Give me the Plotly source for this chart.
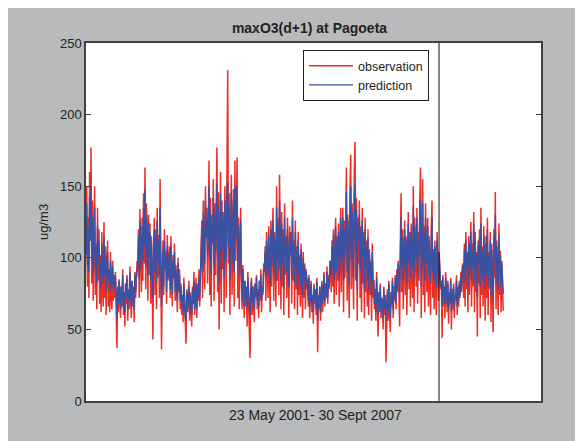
import plotly.graph_objects as go

# ---- data (one value every 4 days from 23 May 2001) ----
step_days = 4
observation = [
    # summer 2001
    105, 150, 80, 128, 72, 160, 118, 177, 82, 140,
    70, 125, 150, 74, 110, 64, 135, 84, 120, 68,
    102, 62, 118, 78, 66, 125, 72, 108, 60, 96,
    112, 66, 90, 62, 104, 72, 64, 98, 70, 88,
    # winter 2001-02
    72, 90, 55, 37, 78, 62, 85, 70, 58, 80,
    66, 92, 60, 74, 52, 82, 68, 88, 56, 76,
    64, 94, 70, 58, 84, 66, 78, 55, 90, 72,
    86, 98,
    # spring-summer 2002
    92, 120, 72, 134, 105, 76, 128, 84, 145, 96,
    163, 78, 138, 118, 70, 130, 88, 124, 68, 115,
    82, 43, 108, 128, 74, 120, 64, 135, 86, 116,
    72, 155,
    96, 36, 88, 112, 74, 120, 92, 105, 68, 116,
    84, 98, 108, 72, 115, 90, 66, 102, 86, 110,
    70, 95, 80, 62, 100, 76, 92, 64,
    # winter 2002-03
    82, 60, 74, 55, 86, 66, 48, 40, 78, 62,
    70, 84, 56, 76, 64, 52, 80, 68, 90, 60,
    74, 86, 58, 82, 70, 92, 66, 88,
    # summer 2003
    98, 126, 72, 140, 110, 78, 150, 118, 135, 82,
    124, 168, 74, 142, 66, 130, 112, 155, 70, 138,
    88, 128, 177, 76, 146, 50, 120, 160, 68, 140,
    92, 132, 62, 150, 122, 72, 165, 231, 96, 145,
    60, 135, 158, 74, 125, 148, 66, 168, 98, 140,
    170, 72, 128, 64, 112, 135,
    # winter 2003-04
    88, 64, 95, 72, 58, 84, 66, 78, 52, 90,
    70, 62, 30, 74, 86, 60, 80, 68, 55, 82,
    72, 88, 64, 76, 58, 84, 70, 92, 62, 80,
    74, 96,
    # summer 2004
    90, 108, 70, 118, 96, 72, 122, 100, 62, 126,
    80, 112, 135, 70, 118, 104, 66, 150, 84, 128,
    74, 158, 110, 64, 132, 80, 120, 60, 138, 88,
    115, 72, 128, 80, 58, 122, 104, 118, 68, 140,
    84, 112, 64, 126, 78, 108, 60, 118, 74, 102,
    66, 110, 80, 58, 104, 72, 96, 64, 92, 78,
    # winter 2004-05
    80, 66, 88, 58, 76, 84, 62, 72, 54, 82,
    68, 78, 60, 86, 34, 74, 64, 80, 56, 70,
    84, 62, 76, 90, 66, 82, 72, 94, 68, 88,
    78, 98,
    # summer 2005
    96, 76, 112, 80, 120, 68, 104, 128, 74, 115,
    84, 124, 66, 110, 135, 76, 118, 135, 62, 126,
    86, 145, 163, 70, 130, 92, 58, 150, 172, 78,
    138, 100, 64, 160, 181, 84, 142, 56, 128, 96,
    140, 72, 122, 62, 135, 82, 118, 58, 128, 76,
    112, 66, 120, 60, 106, 74, 98, 56, 110, 72,
    # winter 2005-06
    84, 64, 78, 56, 90, 70, 45, 76, 62, 82,
    58, 72, 66, 50, 80, 60, 74, 27, 68, 78,
    56, 84, 62, 48, 76, 66, 86, 58, 80, 70,
    88, 64, 92, 76,
    # summer 2006
    98, 72, 52, 110, 145, 76, 120, 64, 105, 126,
    74, 115, 60, 100, 132, 78, 118, 66, 124, 90,
    72, 150, 62, 128, 96, 80, 135, 68, 118, 84,
    140, 163, 58, 130, 155, 74, 122, 62, 138, 92,
    76, 128, 66, 115, 84, 60, 120, 140, 72, 106,
    64, 112, 80, 60, 118, 76, 70, 104,
    # winter 2006-07
    92, 78, 84, 44, 88, 66, 80, 58, 90, 72,
    62, 84, 54, 76, 68, 86, 50, 78, 64, 82,
    58, 74, 70, 88, 60, 80, 66, 84, 72, 90,
    76, 94,
    # summer 2007
    96, 72, 110, 66, 118, 78, 104, 62, 115, 74,
    100, 125, 66, 110, 80, 132, 62, 118, 76, 104,
    45, 112, 82, 120, 58, 135, 74, 108, 66, 122,
    84, 56, 115, 72, 128, 60, 104, 78, 118, 55,
    110, 70, 48, 120, 86, 146, 64, 112, 78, 60,
    124, 74, 105, 62, 98, 70, 63,
]
prediction = [
    # summer 2001
    102, 138, 95, 120, 90, 142, 112, 150, 98, 128,
    88, 118, 135, 92, 108, 82, 122, 96, 112, 86,
    98, 78, 110, 92, 82, 115, 88, 102, 76, 94,
    104, 84, 92, 76, 98, 86, 78, 94, 82, 88,
    # winter 2001-02
    78, 86, 64, 58, 80, 68, 84, 74, 64, 80,
    70, 88, 66, 76, 62, 82, 72, 86, 64, 78,
    70, 90, 74, 66, 84, 70, 80, 64, 88, 76,
    86, 94,
    # spring-summer 2002
    94, 116, 86, 126, 104, 92, 122, 98, 135, 108,
    148, 94, 130, 114, 88, 124, 100, 118, 84, 110,
    96, 72, 104, 120, 90, 114, 82, 126, 98, 112,
    88, 135,
    94, 66, 90, 106, 80, 112, 92, 102, 76, 108,
    86, 98, 104, 78, 108, 90, 74, 98, 86, 104,
    76, 92, 82, 70, 96, 78, 88, 70,
    # winter 2002-03
    80, 66, 74, 62, 82, 68, 58, 56, 76, 64,
    70, 80, 62, 74, 66, 60, 78, 68, 84, 64,
    74, 82, 64, 80, 72, 86, 70, 84,
    # summer 2003
    100, 120, 90, 132, 108, 96, 140, 114, 128, 102,
    118, 150, 98, 134, 88, 124, 110, 142, 94, 130,
    104, 122, 152, 100, 136, 82, 116, 145, 92, 132,
    106, 126, 86, 140, 118, 98, 148, 153, 108, 136,
    84, 128, 146, 96, 120, 140, 90, 150, 112, 132,
    150, 98, 122, 88, 110, 126,
    # winter 2003-04
    88, 70, 92, 76, 66, 84, 72, 80, 64, 86,
    74, 68, 60, 76, 84, 68, 80, 72, 64, 82,
    74, 86, 70, 78, 66, 84, 74, 88, 70, 80,
    76, 92,
    # summer 2004
    92, 104, 86, 112, 96, 88, 116, 100, 82, 120,
    94, 108, 126, 88, 114, 102, 84, 135, 98, 122,
    92, 140, 106, 84, 124, 96, 114, 78, 128, 100,
    110, 90, 120, 94, 80, 116, 102, 112, 86, 128,
    96, 108, 82, 118, 92, 104, 78, 112, 88, 100,
    80, 106, 88, 74, 100, 84, 94, 78, 90, 86,
    # winter 2004-05
    82, 70, 86, 66, 76, 82, 68, 74, 62, 80,
    70, 78, 64, 84, 56, 74, 68, 80, 62, 72,
    82, 68, 76, 88, 70, 82, 74, 90, 72, 86,
    80, 94,
    # summer 2005
    98, 88, 108, 92, 116, 84, 104, 122, 90, 112,
    100, 118, 86, 108, 128, 94, 114, 128, 84, 120,
    102, 135, 146, 90, 126, 108, 80, 140, 150, 98,
    132, 114, 86, 145, 152, 104, 134, 78, 122, 112,
    130, 92, 118, 82, 126, 100, 114, 78, 120, 94,
    108, 84, 114, 78, 102, 88, 96, 74, 104, 84,
    # winter 2005-06
    84, 68, 78, 62, 86, 72, 60, 76, 66, 80,
    62, 72, 68, 58, 78, 64, 74, 56, 68, 76,
    62, 82, 66, 58, 76, 68, 84, 64, 80, 72,
    86, 68, 88, 78,
    # summer 2006
    96, 90, 76, 106, 128, 94, 114, 84, 104, 120,
    90, 112, 82, 100, 124, 96, 114, 86, 118, 106,
    92, 136, 84, 122, 110, 98, 128, 88, 114, 102,
    130, 140, 80, 124, 138, 94, 118, 84, 128, 108,
    96, 122, 88, 112, 100, 82, 114, 128, 90, 104,
    84, 108, 96, 80, 112, 92, 88, 100,
    # winter 2006-07
    90, 80, 84, 66, 86, 72, 80, 68, 86, 74,
    68, 82, 64, 76, 70, 84, 62, 78, 68, 80,
    66, 74, 72, 84, 66, 78, 70, 82, 74, 86,
    78, 90,
    # summer 2007
    94, 86, 106, 82, 112, 92, 102, 80, 110, 88,
    98, 118, 84, 106, 94, 124, 82, 112, 90, 102,
    72, 108, 96, 114, 80, 124, 88, 104, 84, 116,
    96, 78, 110, 88, 120, 80, 102, 92, 112, 74,
    106, 86, 70, 114, 98, 130, 82, 108, 92, 78,
    116, 88, 102, 80, 96, 86, 75,
]
split_day = 1963          # vertical divider (day index)
x_range = [0, 2530]       # day index range of the axis
y_ticks = [0, 50, 100, 150, 200, 250]

days_obs = [i * step_days for i in range(len(observation))]
days_pred = [i * step_days for i in range(len(prediction))]

GRAY = "#b9babc"
FONT = "Liberation Sans, Arial, sans-serif"

fig = go.Figure()
fig.add_trace(go.Scatter(x=days_obs, y=observation, mode="lines", name="observation",
                         line=dict(color="#ec2d26", width=1.5)))
fig.add_trace(go.Scatter(x=days_pred, y=prediction, mode="lines", name="prediction",
                         line=dict(color="#3a52a4", width=1.4)))

fig.add_shape(type="line", x0=split_day, x1=split_day, y0=0, y1=250,
              xref="x", yref="y", line=dict(color="#111111", width=1))

# plot area in figure pixels: x 78..533, y 35..393
fig.update_layout(
    width=583, height=441,
    margin=dict(l=78, r=50, t=35, b=48),
    paper_bgcolor=GRAY, plot_bgcolor="white",
    font=dict(family=FONT, size=13, color="#222222"),
    showlegend=True,
    legend=dict(x=(295 - 78) / 455, y=(393 - 42) / 358, xanchor="left", yanchor="top",
                bgcolor="white", bordercolor="#222222", borderwidth=1,
                font=dict(size=12.5, color="#222222"), itemwidth=44,
                tracegroupgap=0),
    title=dict(text="<b>maxO3(d+1) at Pagoeta</b>", x=(309.5 - 86) / 455, xref="paper",
               xanchor="center", y=1 - 20 / 441, yref="container", yanchor="middle",
               font=dict(size=14, color="#222222")),
    xaxis=dict(range=x_range, showticklabels=False, ticks="", showgrid=False,
               zeroline=False, showline=True, mirror=True, linecolor="#404040",
               linewidth=1.5),
    yaxis=dict(range=[0, 250], tickvals=y_ticks, ticks="inside", ticklen=5,
               tickcolor="#404040", showgrid=False, zeroline=False, showline=True,
               mirror="ticks", linecolor="#404040", linewidth=1.5,
               tickfont=dict(size=13, color="#222222")),
    annotations=[
        dict(text="23 May 2001- 30 Sept 2007", xref="paper", yref="paper",
             x=(315.5 - 86) / 455, y=(401 - 415) / 358, xanchor="center",
             yanchor="middle", showarrow=False, font=dict(size=14, color="#222222")),
        dict(text="ug/m3", xref="paper", yref="paper", x=(43 - 86) / 455, y=0.5,
             xanchor="center", yanchor="middle", textangle=-90, showarrow=False,
             font=dict(size=13, color="#222222")),
    ],
)

fig.write_html("out.html")
